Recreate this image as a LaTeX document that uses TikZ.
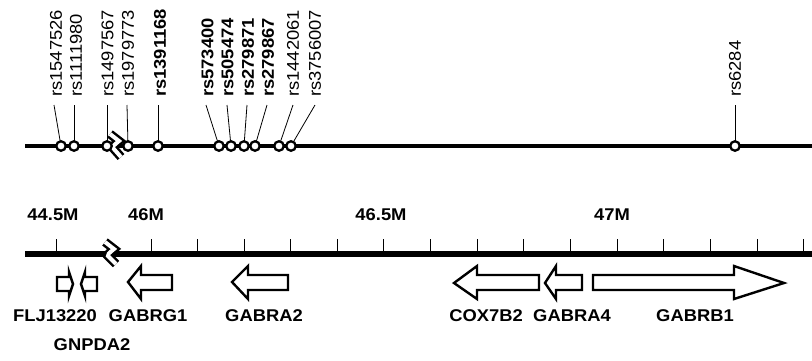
\documentclass[tikz,border=0pt]{standalone}
\usepackage{fontspec}
\setmainfont{Liberation Sans}
\newcommand\lb[1]{\scalebox{1.08}[1]{#1}}
\begin{document}
\begin{tikzpicture}[x=1pt,y=-1pt,
  snp/.style={circle,draw,fill=white,line width=2.3pt,minimum size=9.5pt,inner sep=0pt},
  rslab/.style={rotate=90,anchor=west,inner sep=0pt,font=\fontsize{17}{19}\selectfont},
  rsbold/.style={rslab,font=\fontsize{17}{19}\selectfont\bfseries},
  lead/.style={line width=0.8pt},
  gene/.style={draw,line width=2.4pt,fill=white,line join=miter},
  glab/.style={inner sep=0pt,font=\fontsize{17}{19}\selectfont\bfseries},
  tick/.style={line width=0.9pt},
  brk/.style={line width=9pt},
  brkw/.style={line width=4pt,white}]
\useasboundingbox (0,0) rectangle (812,360);
% top SNP line
\draw[line width=3.6pt] (25,146) -- (812,146);
% labels
\node[rslab] (l1) at (56,97) {\lb{rs1547526}};
\node[rslab] (l2) at (76,97) {\lb{rs1111980}};
\node[rslab] (l3) at (107.5,97) {\lb{rs1497567}};
\node[rslab] (l4) at (128,97) {\lb{rs1979773}};
\node[rsbold] (l5) at (160,97) {\lb{rs1391168}};
\node[rsbold] (l6) at (207.5,97) {\lb{rs573400}};
\node[rsbold] (l7) at (227.5,97) {\lb{rs505474}};
\node[rsbold] (l8) at (248,97) {\lb{rs279871}};
\node[rsbold] (l9) at (268,97) {\lb{rs279867}};
\node[rslab] (l10) at (293,97) {\lb{rs1442061}};
\node[rslab] (l11) at (315,97) {\lb{rs3756007}};
\node[rslab] (l12) at (735,97) {\lb{rs6284}};
% lead tops
\foreach \i/\x in {1/54,2/74,3/107,4/127,5/158,6/206,7/227,8/247,9/267,10/293,11/315,12/735}
  \coordinate (t\i) at (\x,105);
% snp circles
\foreach \i/\x in {1/61,2/74,3/107,4/128,5/158,6/219,7/231,8/244,9/255,10/279,11/291,12/735}
  \coordinate (c\i) at (\x,146);
\foreach \i in {1,...,12} \draw[lead] (t\i) -- (c\i);
% break on top line
\draw[brk] (110,134) -- (119,141) .. controls (113,146) .. (113,148) -- (121,157);
\draw[brkw] (110,134) -- (119,141) .. controls (113,146) .. (113,148) -- (121,157);
\foreach \i in {1,...,12} \node[snp] (s\i) at (c\i) {};
% axis
\foreach \x in {56,151,197.5,244,290.5,337,383.5,430,477,523.5,570,617,663.5,710,757,803}
  \draw[tick] (\x,239) -- (\x,252);
\draw[line width=6pt] (25,254) -- (812,254);
\draw[brk] (105,242) -- (114,249) .. controls (108,254) .. (108,256) -- (116,264);
\draw[brkw] (105,242) -- (114,249) .. controls (108,254) .. (108,256) -- (116,264);
\node[glab] (m1) at (53,215) {\lb{44.5M}};
\node[glab] (m2) at (146,215) {\lb{46M}};
\node[glab] (m3) at (381,215) {\lb{46.5M}};
\node[glab] (m4) at (612,215) {\lb{47M}};
% genes
% FLJ13220 (right)
\draw[gene] (57,277) -- (69,277) -- (69,272) -- (73,284) -- (69,296) -- (69,291) -- (57,291) -- cycle;
% GNPDA2 (left)
\draw[gene] (97,277) -- (85,277) -- (85,272) -- (81,284) -- (85,296) -- (85,291) -- (97,291) -- cycle;
% GABRG1
\draw[gene] (172,275) -- (141,275) -- (141,266) -- (128,282) -- (141,299) -- (141,290) -- (172,290) -- cycle;
% GABRA2
\draw[gene] (288,275) -- (248,275) -- (248,266) -- (232,282) -- (248,299) -- (248,290) -- (288,290) -- cycle;
% COX7B2
\draw[gene] (539,275) -- (477,275) -- (477,266) -- (454,283) -- (477,299) -- (477,290) -- (539,290) -- cycle;
% GABRA4
\draw[gene] (582,275) -- (556,275) -- (556,266) -- (545,283) -- (556,299) -- (556,290) -- (582,290) -- cycle;
% GABRB1
\draw[gene] (593,275) -- (734,275) -- (734,266) -- (784,283) -- (734,299) -- (734,290) -- (593,290) -- cycle;
\node[glab] (g1) at (55,316) {\lb{FLJ13220}};
\node[glab] (g2) at (148,316) {\lb{GABRG1}};
\node[glab] (g3) at (264,316) {\lb{GABRA2}};
\node[glab] (g4) at (486,316) {\lb{COX7B2}};
\node[glab] (g5) at (572,316) {\lb{GABRA4}};
\node[glab] (g6) at (695,316) {\lb{GABRB1}};
\node[glab] (g7) at (92,345) {\lb{GNPDA2}};
\end{tikzpicture}
\end{document}
